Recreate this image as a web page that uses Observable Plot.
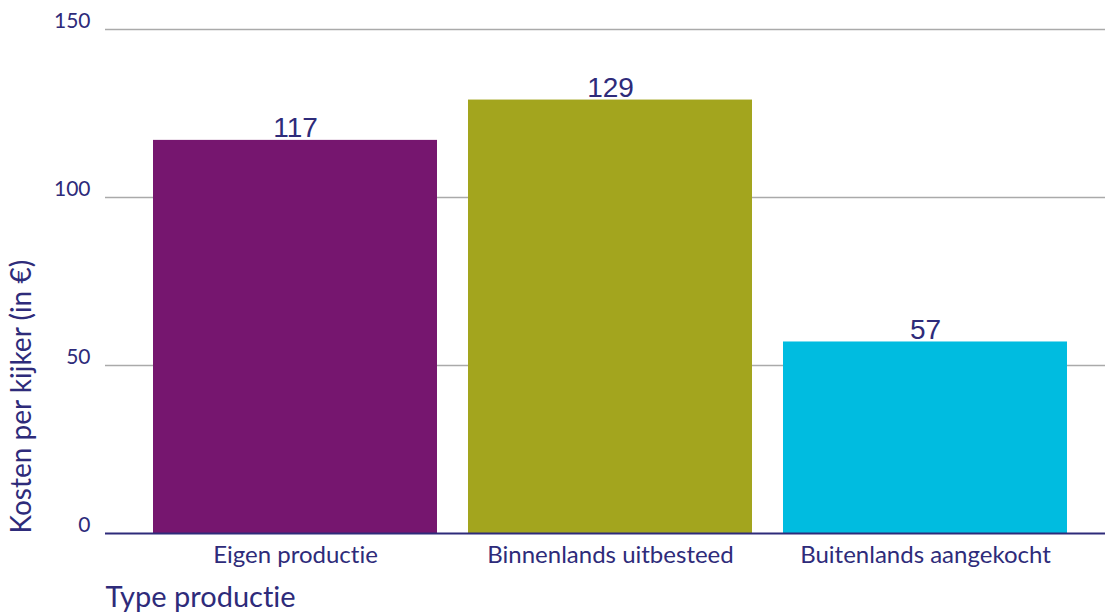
<!DOCTYPE html>
<html>
<head>
<meta charset="utf-8">
<script src="https://cdn.jsdelivr.net/npm/d3@7"></script>
<script src="https://cdn.jsdelivr.net/npm/@observablehq/plot@0.6"></script>
<style>
  html, body { margin: 0; padding: 0; background: #fff; }
  #chart svg { display: block; }
  #chart svg text { font-variant-ligatures: none; }
</style>
</head>
<body>
<div id="chart"></div>
<script>
const categories = ["Eigen productie", "Binnenlands uitbesteed", "Buitenlands aangekocht"];
const values = [117, 129, 57];
const colors = ["#76166f", "#a3a51e", "#00bce0"];
const yTicks = [0, 50, 100, 150];
const yLabel = "Kosten per kijker (in €)";
const xLabel = "Type productie";

const data = categories.map((c, i) => ({ category: c, value: values[i], color: colors[i] }));
const navy = "#2e2b7a";

const chart = Plot.plot({
  width: 1105,
  height: 616,
  marginLeft: 105,
  marginRight: 0,
  marginTop: 29,
  marginBottom: 83,
  style: { fontFamily: "Lato, sans-serif", color: navy, background: "#fff" },
  x: { domain: categories, paddingInner: 0.1, paddingOuter: 0.135, align: 0.55, label: null },
  y: { domain: [0, 150], label: null },
  marks: [
    Plot.ruleY(yTicks.filter(d => d > 0), { stroke: "#aaaaaa", strokeWidth: 1.5 }),
    Plot.barY(data, { x: "category", y: "value", fill: "color" }),
    Plot.ruleY([0], { stroke: navy, strokeWidth: 2 }),
    Plot.text(data, {
      x: "category", y: "value", text: d => String(d.value),
      lineAnchor: "bottom", dy: -3, fontSize: 28, fill: navy,
      fontFamily: "Liberation Sans, Arial, sans-serif"
    }),
    Plot.axisY({ ticks: yTicks, tickSize: 0, tickPadding: 15, fontSize: 21, dy: -8, label: null, fill: navy }),
    Plot.axisX({ tickSize: 0, tickPadding: 12, fontSize: 24, label: null, fill: navy }),
    Plot.text([xLabel], { frameAnchor: "bottom-left", textAnchor: "start", lineAnchor: "middle", dy: 64, fontSize: 29, fill: navy }),
    Plot.text([yLabel], { frameAnchor: "bottom-left", textAnchor: "start", lineAnchor: "middle", rotate: -90, dx: -83, fontSize: 28, fill: navy })
  ]
});
document.getElementById("chart").appendChild(chart);
</script>
</body>
</html>
